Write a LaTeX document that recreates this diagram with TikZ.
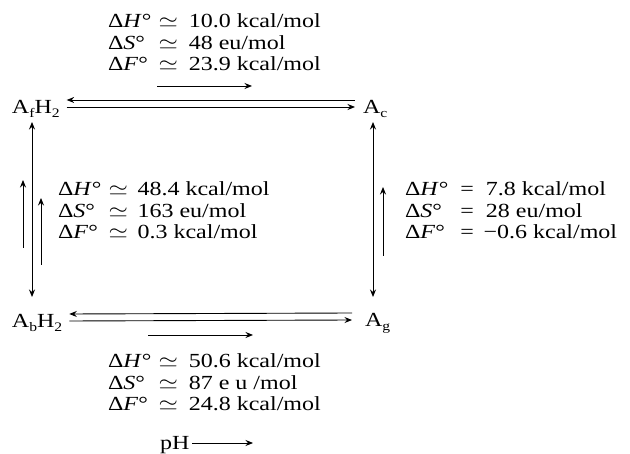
\documentclass[tikz,border=0pt]{standalone}
\usepackage{fontspec}
\setmainfont{Liberation Serif}
\usepackage{graphicx}
\usetikzlibrary{arrows.meta}
\newcommand\sbx[1]{\raisebox{-0.35ex}{\fontsize{13}{13}\selectfont #1}}
\newcommand\wide[1]{\scalebox{1.2}[1]{#1}}
\newcommand\dX[1]{Δ\textit{#1}°}
\tikzset{
  >={Stealth[length=7.5pt,width=6pt,inset=2.5pt]},
  every node/.style={inner sep=0pt, outer sep=0pt, font=\fontsize{20}{21.5}\selectfont},
  lbl/.style={anchor=base west},
  arr/.style={line width=0.9pt}
}
\begin{document}
\begin{tikzpicture}[x=1pt,y=-1pt]
\useasboundingbox (0,0) rectangle (630,454);

% species
\node[lbl] (afh) at (12,114) {\wide{A\sbx{f}H\sbx{2}}};
\node[lbl] (ac)  at (363,114) {\wide{A\sbx{c}}};
\node[lbl] (abh) at (12,328) {\wide{A\sbx{b}H\sbx{2}}};
\node[lbl] (ag)  at (365,327) {\wide{A\sbx{g}}};

% horizontal equilibria
\draw[arr,<-] ([shift={(7,-14)}]afh.base east) -- ([shift={(-8,-14)}]ac.base west);
\draw[arr,->] ([shift={(7,-7)}]afh.base east) -- ([shift={(-8,-7)}]ac.base west);
\draw[arr,<-] ([shift={(7,-14)}]abh.base east) -- ([shift={(-13,-14)}]ag.base west);
\draw[arr,->] ([shift={(7,-7)}]abh.base east) -- ([shift={(-13,-7)}]ag.base west);

% vertical equilibria
\draw[arr,<->] ([shift={(20,8)}]afh.base west) -- ([shift={(20,-31)}]abh.base west);
\draw[arr,<->] ([shift={(10,8)}]ac.base west) -- ([shift={(8,-30)}]ag.base west);

% small direction arrows
\coordinate (t1) at (157,86);  \coordinate (t2) at (252,86);
\coordinate (b1) at (148,335); \coordinate (b2) at (253,335);
\coordinate (l1) at (23,248);  \coordinate (l2) at (23,180);
\coordinate (l3) at (41,265);  \coordinate (l4) at (41,198);
\coordinate (r1) at (383,256); \coordinate (r2) at (383,187);
\draw[arr,->] (t1) -- (t2);
\draw[arr,->] (b1) -- (b2);
\draw[arr,->] (l1) -- (l2);
\draw[arr,->] (l3) -- (l4);
\draw[arr,->] (r1) -- (r2);

% thermodynamic data
\node[lbl] (top) at (108,28) {\wide{\begin{tabular}[t]{@{}l@{\hspace{6pt}}c@{\hspace{9pt}}l@{}}
\dX{H} & $\simeq$ & 10.0 kcal/mol\\
\dX{S} & $\simeq$ & 48 eu/mol\\
\dX{F} & $\simeq$ & 23.9 kcal/mol
\end{tabular}}};
\node[lbl] (left) at (58,196) {\wide{\begin{tabular}[t]{@{}l@{\hspace{6pt}}c@{\hspace{8pt}}l@{}}
\dX{H} & $\simeq$ & 48.4 kcal/mol\\
\dX{S} & $\simeq$ & 163 eu/mol\\
\dX{F} & $\simeq$ & 0.3 kcal/mol
\end{tabular}}};
\node[lbl] (right) at (405,196) {\wide{\begin{tabular}[t]{@{}l@{\hspace{10pt}}c@{\hspace{10pt}}l@{}}
\dX{H} & = & 7.8 kcal/mol\\
\dX{S} & = & 28 eu/mol\\
\dX{F} & = & \hspace{-2pt}−0.6 kcal/mol
\end{tabular}}};
\node[lbl] (bot) at (108,368) {\wide{\begin{tabular}[t]{@{}l@{\hspace{6pt}}c@{\hspace{9pt}}l@{}}
\dX{H} & $\simeq$ & 50.6 kcal/mol\\
\dX{S} & $\simeq$ & 87 e u /mol\\
\dX{F} & $\simeq$ & 24.8 kcal/mol
\end{tabular}}};

% pH axis
\node[lbl] (ph) at (160,450) {\wide{pH}};
\coordinate (phend) at (253,443);
\draw[arr,->] ([shift={(3,-7)}]ph.base east) -- (phend);
\end{tikzpicture}
\end{document}
